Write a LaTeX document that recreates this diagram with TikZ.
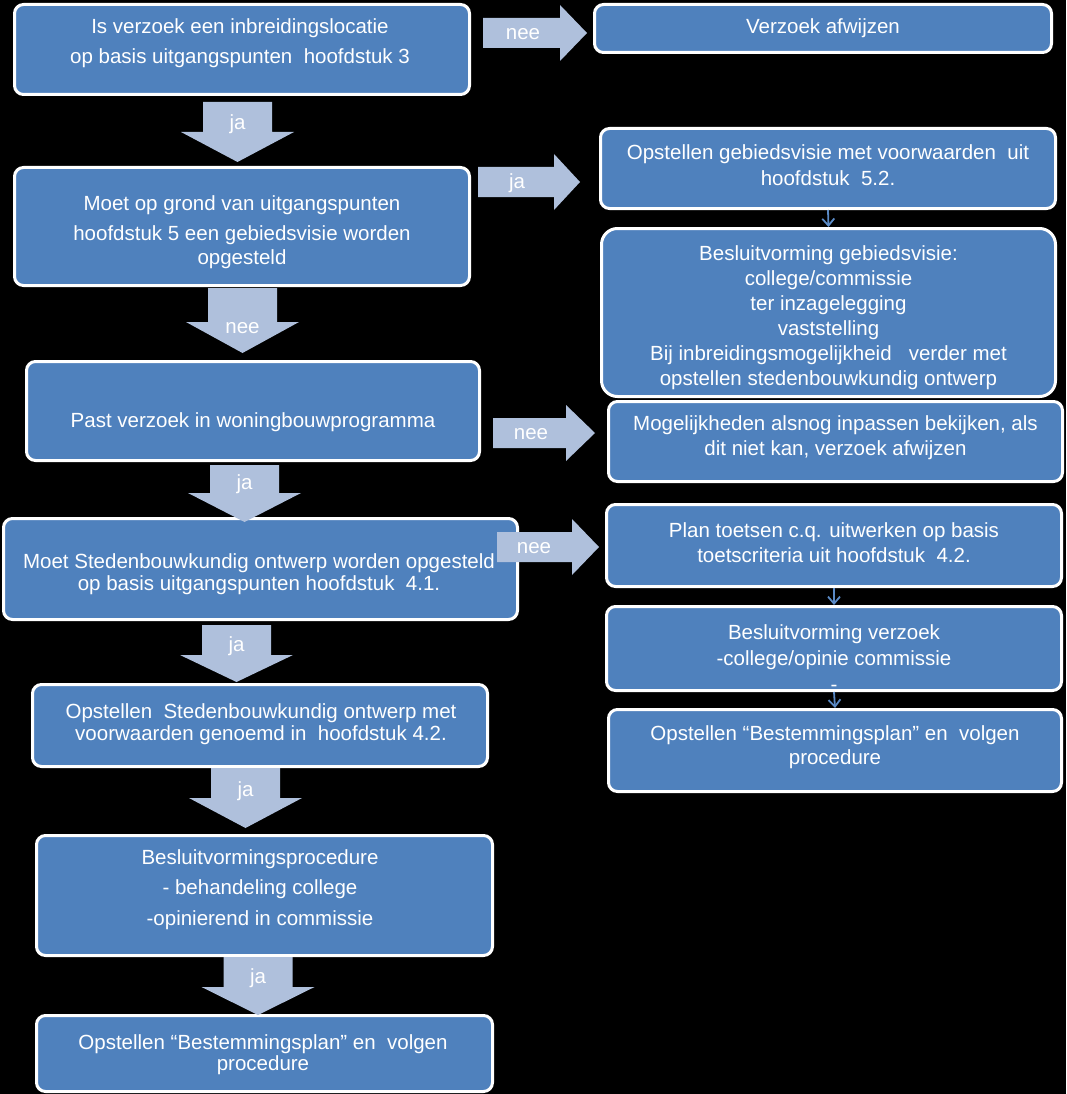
\documentclass[tikz,border=0pt]{standalone}
\usepackage{fontspec}
\setmainfont{Liberation Sans}
\usetikzlibrary{arrows.meta}
\definecolor{boxblue}{HTML}{4F81BD}
\definecolor{arrblue}{HTML}{AFC0DC}
\definecolor{linkblue}{HTML}{5A8AC6}
\newcommand\darr[7]{%
  \fill[arrfill] ({#2-34.5},#3) -- ({#2+34.5},#3) -- ({#2+34.5},#4) -- ({#2+56.5},#4) -- (#2,#5) -- ({#2-56.5},#4) -- ({#2-34.5},#4) -- cycle;
  \node[lbl] (#1) at (#2,#6) {#7};}
\newcommand\rarr[7]{%
  \fill[arrfill] (#2,{#5-15}) -- (#3,{#5-15}) -- (#3,{#5-28}) -- (#4,#5) -- (#3,{#5+28}) -- (#3,{#5+15}) -- (#2,{#5+15}) -- cycle;
  \node[lbl] (#1) at (#6,#5) {#7};}
\begin{document}
\begin{tikzpicture}[x=1pt,y=-1pt,
  box/.style={draw=white, line width=3pt, fill=boxblue, rounded corners=9pt, inner sep=0pt},
  txt/.style={text=white, align=center, inner sep=0pt, yshift=-2pt, font=\fontsize{20.5}{25}\selectfont},
  lbl/.style={text=white, inner sep=0pt, yshift=-1.5pt, font=\fontsize{20.5}{25}\selectfont},
  arrfill/.style={fill=arrblue},
  smallarr/.style={draw=linkblue, line width=1.8pt, -{Straight Barb[length=7pt,width=12pt,line width=1.8pt]}}]
\fill[black] (0,0) rectangle (1066,1094);
\useasboundingbox (0,0) rectangle (1066,1094);

% left column boxes
\node[box, minimum width=455pt, minimum height=90pt] (b1) at (242,49.5) {};
\node[box, minimum width=455pt, minimum height=118pt] (b2) at (242,226.5) {};
\node[box, minimum width=453pt, minimum height=99pt] (b3) at (253,411) {};
\node[box, minimum width=514pt, minimum height=101pt] (b4) at (260.5,569) {};
\node[box, minimum width=455pt, minimum height=82pt] (b5) at (260,725.5) {};
\node[box, minimum width=456pt, minimum height=120pt] (b6) at (264.5,895.5) {};
\node[box, minimum width=456pt, minimum height=76pt] (b7) at (264.5,1053.5) {};
% right column boxes
\node[box, minimum width=457pt, minimum height=48pt] (r1) at (823,28.5) {};
\node[box, minimum width=455pt, minimum height=80pt] (r2) at (828,168.5) {};
\node[box, rounded corners=16pt, minimum width=454pt, minimum height=168pt] (r3) at (828.5,312.5) {};
\node[box, minimum width=454pt, minimum height=80pt] (r4) at (835.5,441.5) {};
\node[box, minimum width=455pt, minimum height=82pt] (r5) at (834,545.5) {};
\node[box, minimum width=455pt, minimum height=84pt] (r6) at (834,648.5) {};
\node[box, minimum width=453pt, minimum height=82pt] (r7) at (835,750.5) {};

% texts
\node[txt, font=\fontsize{20.5}{30}\selectfont] (t1) at (240,41) {Is verzoek een inbreidingslocatie\\op basis uitgangspunten\ \ hoofdstuk 3};
\node[txt, font=\fontsize{20.5}{24}\selectfont] (t2) at (242,230) {Moet op grond van uitgangspunten\\[6pt]hoofdstuk 5 een gebiedsvisie worden\\opgesteld};
\node[txt] (t3) at (253,420) {Past verzoek in woningbouwprogramma};
\node[txt, font=\fontsize{20.5}{22}\selectfont] (t4) at (259,572.5) {Moet Stedenbouwkundig ontwerp worden opgesteld\\op basis uitgangspunten hoofdstuk\ \ 4.1.};
\node[txt, font=\fontsize{20.5}{21.5}\selectfont] (t5) at (261,722) {Opstellen\ \ Stedenbouwkundig ontwerp met\\voorwaarden genoemd in\ \ hoofdstuk 4.2.};
\node[txt, font=\fontsize{20.5}{30.5}\selectfont] (t6) at (260,887.5) {Besluitvormingsprocedure\\- behandeling college\\-opinierend in commissie};
\node[txt, font=\fontsize{20.5}{21.5}\selectfont] (t7) at (263,1052.5) {Opstellen “Bestemmingsplan”\ en\ \ volgen\\procedure};
\node[txt] (u1) at (823,26) {Verzoek afwijzen};
\node[txt, font=\fontsize{20.5}{26}\selectfont] (u2) at (828,163.5) {Opstellen gebiedsvisie met voorwaarden\ \ uit\\hoofdstuk\ \ 5.2.};
\node[txt] (u3) at (828.5,315.5) {Besluitvorming gebiedsvisie:\\college/commissie\\ter inzagelegging\\vaststelling\\Bij inbreidingsmogelijkheid\ \ \ verder met\\opstellen stedenbouwkundig ontwerp};
\node[txt] (u4) at (835.5,435.5) {Mogelijkheden alsnog inpassen bekijken, als\\dit niet kan, verzoek afwijzen};
\node[txt] (u5) at (834,540.5) {Plan toetsen c.q. uitwerken op basis\\toetscriteria uit hoofdstuk\ \ 4.2.};
\node[txt, font=\fontsize{20.5}{26}\selectfont] (u6) at (834,656) {Besluitvorming verzoek\\-college/opinie commissie\\-};
\node[txt, font=\fontsize{20.5}{24}\selectfont] (u7) at (835,745) {Opstellen “Bestemmingsplan”\ en\ \ volgen\\procedure};

% block arrows (down)
\darr{d1}{237.5}{102}{132}{162}{123}{ja}
\darr{d2}{242.5}{288}{322}{353}{327}{nee}
\darr{d3}{244.5}{465}{493}{522}{483}{ja}
\darr{d4}{236.5}{625}{655}{682}{645}{ja}
\darr{d5}{245.5}{768}{798}{828}{790}{ja}
\darr{d6}{258}{957}{987}{1015}{977}{ja}
% block arrows (right)
\rarr{a1}{483}{560}{587}{33}{523}{nee}
\rarr{a2}{478}{554}{580}{182}{517}{ja}
\rarr{a3}{493}{566}{595}{433}{531}{nee}
\rarr{a4}{497}{572}{599}{547}{534}{nee}

% small connectors
\draw[smallarr] (r2.south) -- (r3.north);
\draw[smallarr] (r5.south) -- (r6.north);
\draw[smallarr] (r6.south) -- (r7.north);
\end{tikzpicture}
\end{document}
